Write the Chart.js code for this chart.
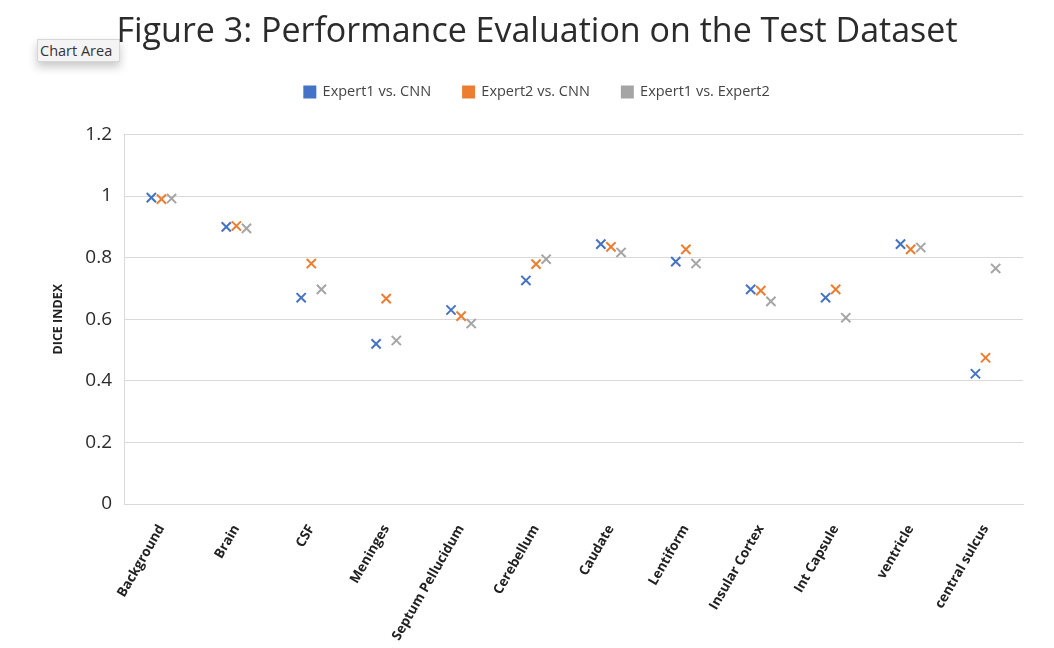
<!DOCTYPE html>
<html>
<head>
<meta charset="utf-8">
<script src="https://cdn.jsdelivr.net/npm/chart.js@4.4.1/dist/chart.umd.min.js"></script>
<style>
  html, body { margin: 0; padding: 0; background: #fff; }
  #wrap { position: relative; width: 1054px; height: 648px; }
  #chart { position: absolute; left: 0; top: 0; }
  #tip {
    position: absolute; left: 37px; top: 39px; width: 83px; height: 23px;
    background: #f4f4f4; border: 1px solid #d6d6d6; box-sizing: border-box;
    box-shadow: 0 5px 10px rgba(0,0,0,0.22);
    font: 14.5px "Open Sans", sans-serif; color: #333; line-height: 21px;
    padding-left: 2px; white-space: nowrap; overflow: hidden;
  }
</style>
</head>
<body>
<div id="wrap">
  <div id="tip">Chart Area</div>
  <canvas id="chart" width="1054" height="648"></canvas>
</div>
<script>
const categories = ['Background', 'Brain', 'CSF', 'Meninges', 'Septum Pellucidum', 'Cerebellum',
  'Caudate', 'Lentiform', 'Insular Cortex', 'Int Capsule', 'ventricle', 'central sulcus'];
const expert1VsCnn = [0.995, 0.900, 0.670, 0.520, 0.630, 0.726, 0.844, 0.787, 0.697, 0.670, 0.844, 0.423];
const expert2VsCnn = [0.990, 0.903, 0.781, 0.667, 0.610, 0.779, 0.835, 0.827, 0.693, 0.697, 0.827, 0.475];
const expert1VsExpert2 = [0.992, 0.895, 0.697, 0.531, 0.586, 0.795, 0.817, 0.781, 0.658, 0.605, 0.833, 0.765];
const yTicks = [0, 0.2, 0.4, 0.6, 0.8, 1, 1.2];

// small sideways shift so the three markers of a category don't overlap
function series(label, values, color, shift) {
  return {
    label,
    data: values.map((v, i) => ({ x: i + shift, y: v })),
    borderColor: color,
    backgroundColor: color,
    pointStyle: 'crossRot',
    pointRadius: 6.5,
    pointHoverRadius: 6.5,
    borderWidth: 2,
    showLine: false
  };
}

const font = '"Open Sans", sans-serif';

new Chart(document.getElementById('chart'), {
  type: 'scatter',
  data: {
    datasets: [
      series('Expert1 vs. CNN', expert1VsCnn, '#4472C4', -0.135),
      series('Expert2 vs. CNN', expert2VsCnn, '#ED7D31', 0),
      series('Expert1 vs. Expert2', expert1VsExpert2, '#A5A5A5', 0.135)
    ]
  },
  options: {
    responsive: false,
    animation: false,
    layout: { padding: { left: 51, right: 31, top: 0, bottom: 0 } },
    plugins: {
      title: {
        display: true,
        text: 'Figure 3: Performance Evaluation on the Test Dataset',
        color: '#2b2b2b',
        font: { family: font, size: 34, weight: 'normal' },
        padding: { top: 12, bottom: 0 }
      },
      // empty spacer between legend and plot
      subtitle: {
        display: true,
        text: '',
        weight: 500,
        font: { size: 1 },
        padding: { top: 0, bottom: 24 }
      },
      legend: {
        display: true,
        labels: {
          boxWidth: 11, boxHeight: 11, padding: 32,
          color: '#444',
          font: { family: font, size: 14.5 }
        }
      },
      tooltip: { enabled: false }
    },
    scales: {
      x: {
        type: 'linear',
        min: -0.5,
        max: 11.5,
        afterBuildTicks: s => { s.ticks = categories.map((c, i) => ({ value: i })); },
        afterFit: s => { s.height = 144; },
        grid: { display: false },
        border: { display: true, color: '#d9d9d9' },
        ticks: {
          autoSkip: false,
          minRotation: 60, maxRotation: 60,
          padding: 10,
          color: '#222',
          font: { family: font, size: 13.5, weight: 'bold' },
          callback: v => categories[v]
        }
      },
      y: {
        min: 0,
        max: 1.2,
        afterBuildTicks: s => { s.ticks = yTicks.map(v => ({ value: v })); },
        afterFit: s => { s.width = 73; },
        grid: { color: '#d9d9d9', drawTicks: false },
        border: { display: true, color: '#d9d9d9' },
        ticks: {
          padding: 12,
          color: '#2b2b2b',
          font: { family: font, size: 19 },
          callback: v => String(v)
        },
        title: {
          display: true,
          text: 'DICE INDEX',
          color: '#222',
          font: { family: font, size: 12.5, weight: 'bold' },
          padding: { top: 0 }
        }
      }
    }
  }
});
</script>
</body>
</html>
